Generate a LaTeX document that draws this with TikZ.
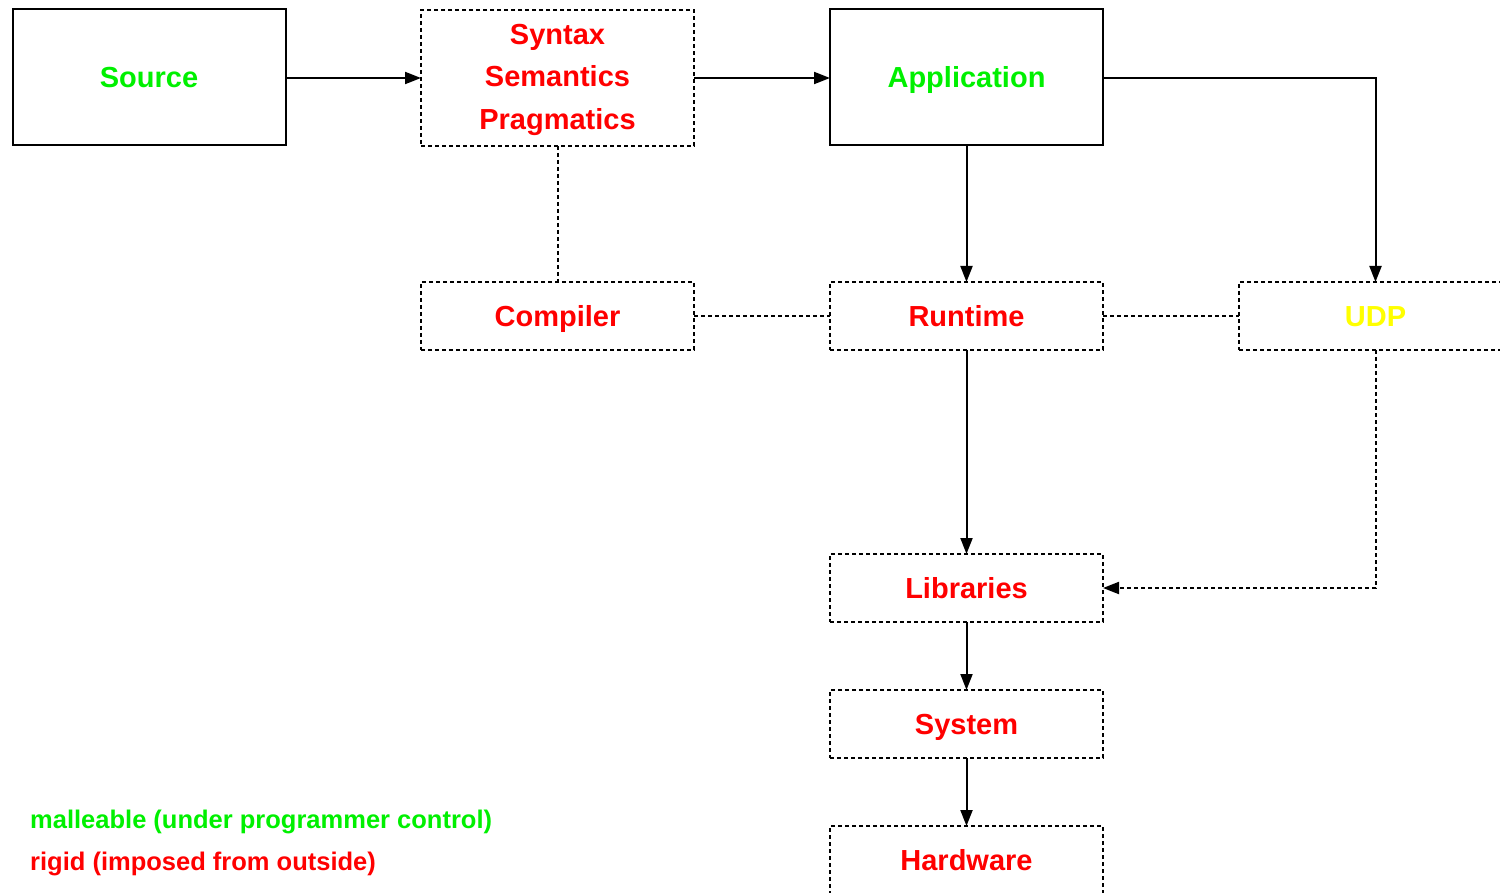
\documentclass[tikz,border=0pt]{standalone}
\usepackage{fontspec}
\setmainfont{Liberation Sans}
\usetikzlibrary{arrows.meta}
\definecolor{mgreen}{RGB}{0,240,0}
\definecolor{mred}{RGB}{255,0,0}
\definecolor{myellow}{RGB}{255,255,0}
\tikzset{
  blk/.style={rectangle, draw=black, line width=2pt, inner sep=0pt, outer sep=0pt,
    minimum width=273pt, font=\fontsize{29}{42.5}\selectfont\bfseries, align=center},
  oneline/.style={text height=21pt, text depth=0pt},
  solidbox/.style={blk, oneline, minimum height=136pt},
  dashbox/.style={blk, oneline, dash pattern=on 4pt off 3pt, minimum height=68pt},
  tallbox/.style={blk, dash pattern=on 4pt off 3pt, minimum height=136pt},
  flow/.style={line width=2pt, -{Triangle[length=16pt,width=12pt]}},
  dflow/.style={line width=2pt, dash pattern=on 4pt off 3pt, -{Triangle[length=16pt,width=12pt]}},
  link/.style={line width=2pt, dash pattern=on 4pt off 3pt},
  legend/.style={anchor=base west, inner sep=0pt, font=\fontsize{25.5}{30}\selectfont\bfseries}
}
\begin{document}
\begin{tikzpicture}[x=1pt,y=-1pt]
\useasboundingbox (0,0) rectangle (1500,893);
\clip (0,0) rectangle (1500,893);
% top row
\node[solidbox, text=mgreen] (src) at (149,77) {Source};
\node[tallbox, text=mred] (lang) at (557.5,78) {};
\node[text=mred, font=\fontsize{29}{42.5}\selectfont\bfseries, align=center, inner sep=0pt] (langtxt) at (557.5,79.5) {Syntax\\Semantics\\Pragmatics};
\node[solidbox, text=mgreen] (app) at (966.5,77) {Application};
% middle row
\node[dashbox, text=mred] (comp) at (557.5,316) {Compiler};
\node[dashbox, text=mred] (rt) at (966.5,316) {Runtime};
\node[dashbox, text=myellow] (udp) at (1375.5,316) {UDP};
% lower column
\node[dashbox, text=mred] (lib) at (966.5,588) {Libraries};
\node[dashbox, text=mred] (sys) at (966.5,724) {System};
\node[dashbox, text=mred] (hw) at (966.5,860) {Hardware};
% legend
\node[legend, text=mgreen] (lgm) at (30,828) {malleable (under programmer control)};
\node[legend, text=mred] (lgr) at (30,870) {rigid (imposed from outside)};
% connectors
\draw[flow] (src.east |- lang.west) -- (lang.west);
\draw[flow] (lang) -- (app.west |- lang.east);
\draw[flow] (app.east |- lang.east) -| (udp.north);
\draw[flow] (app) -- (rt);
\draw[link] (lang) -- (comp);
\draw[link] (comp) -- (rt);
\draw[link] (rt) -- (udp);
\draw[flow] (rt) -- (lib);
\draw[dflow] (udp.south) |- (lib.east);
\draw[flow] (lib) -- (sys);
\draw[flow] (sys) -- (hw);
\end{tikzpicture}
\end{document}
